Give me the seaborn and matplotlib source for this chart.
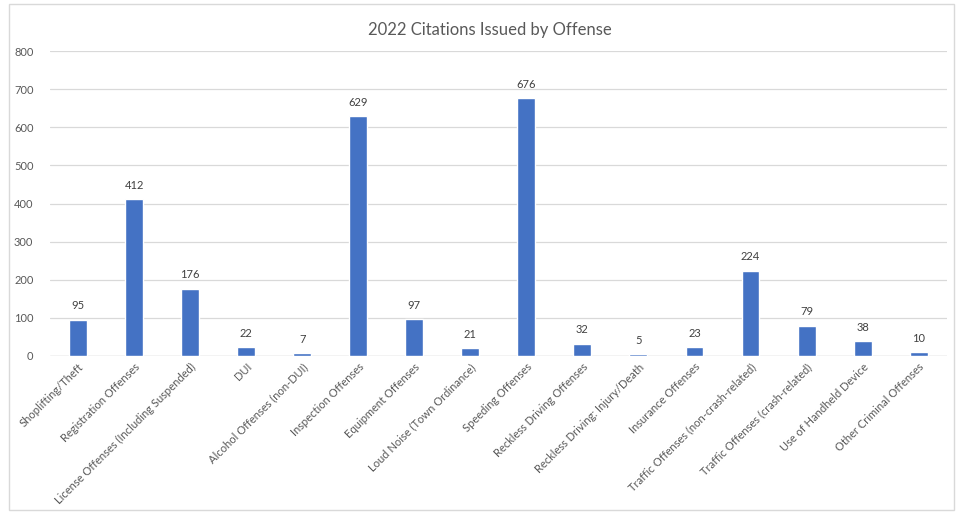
import seaborn as sns
import matplotlib.pyplot as plt
import pandas as pd
from matplotlib.patches import Rectangle

offenses = [
    'Shoplifting/Theft', 'Registration Offenses', 'License Offenses (Including Suspended)',
    'DUI', 'Alcohol Offenses (non-DUI)', 'Inspection Offenses', 'Equipment Offenses',
    'Loud Noise (Town Ordinance)', 'Speeding Offenses', 'Reckless Driving Offenses',
    'Reckless Driving: Injury/Death', 'Insurance Offenses', 'Traffic Offenses (non-crash-related)',
    'Traffic Offenses (crash-related)', 'Use of Handheld Device', 'Other Criminal Offenses',
]
citations = [95, 412, 176, 22, 7, 629, 97, 21, 676, 32, 5, 23, 224, 79, 38, 10]
y_ticks = [0, 100, 200, 300, 400, 500, 600, 700, 800]

df = pd.DataFrame({'offense': offenses, 'citations': citations})

sns.set_style('white')
plt.rcParams['font.family'] = ['Lato', 'DejaVu Sans']
grey = '#595959'

fig = plt.figure(figsize=(9.63, 5.12), dpi=100)
ax = fig.add_axes([0.052, 0.305, 0.931, 0.595])

sns.barplot(data=df, x='offense', y='citations', color='#4472C4', width=0.32,
            saturation=1, ax=ax)

for i, v in enumerate(citations):
    ax.annotate(str(v), (i, v), xytext=(0, 6), textcoords='offset points',
                ha='center', va='bottom', fontsize=8, color='#404040')

ax.set_ylim(0, 800)
ax.set_xlim(-0.5, len(offenses) - 0.5)
ax.set_yticks(y_ticks)
ax.yaxis.grid(True, color='#D9D9D9', linewidth=0.9)
ax.set_axisbelow(True)
for s in ax.spines.values():
    s.set_visible(False)
ax.axhline(0, color='#D9D9D9', linewidth=1.0, zorder=0)
ax.tick_params(axis='y', labelsize=8, colors=grey, length=0, pad=12)
ax.tick_params(axis='x', length=0, pad=4)
ax.set_xticks(range(len(offenses)))
ax.set_xticklabels(offenses, rotation=45, ha='right', rotation_mode='anchor',
                   fontsize=8, color=grey)
ax.set_xlabel('')
ax.set_ylabel('')

fig.text(0.509, 0.942, '2022 Citations Issued by Offense', ha='center', va='center',
         fontsize=12, color=grey)

fig.patches.append(Rectangle((0.009, 0.004), 0.982, 0.988, transform=fig.transFigure,
                             fill=False, edgecolor='#D9D9D9', linewidth=1))

fig.savefig('out.png', dpi=100)
